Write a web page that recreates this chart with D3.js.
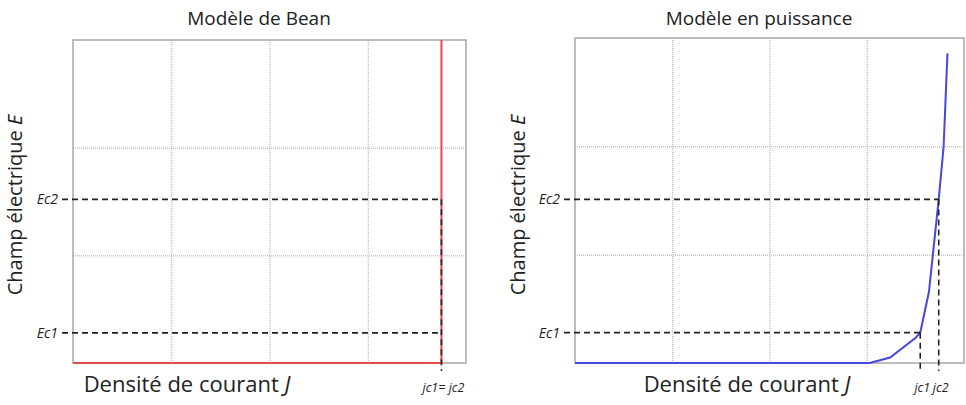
<!DOCTYPE html>
<html lang="fr">
<head>
    <meta charset="UTF-8">
    <title>Modèles E(J)</title>
    <style>
        body { margin: 0; background: #fff; }
        svg { display: block; font-family: "Open Sans", sans-serif; }
        .grid line { stroke: #aaa; stroke-dasharray: 1,1; }
        .grid path { display: none; }
        .crit { stroke: #222; stroke-width: 1.6; stroke-dasharray: 6,4; fill: none; }
        .tick-lbl { font-style: italic; font-size: 14px; fill: #222; }
        .jc-lbl { font-size: 12.5px; }
    </style>
</head>
<body>
    <div id="chart"></div>

    <script src="https://d3js.org/d3.v7.min.js"></script>
    <script>
        // grid positions (J in [0,4], E in [0,3])
        const gridJ = [1, 2, 3]
        const gridE = [1, 2]

        // Bean model: E jumps at jc
        const beanJ = [0, 3.75, 3.75]
        const beanE = [0, 0, 3]
        const beanJc = [3.75]
        const beanEc = [0.28, 1.52]
        const beanJcLabels = ['jc1= jc2']

        // power-law model
        const powerJ = [0, 3.03, 3.24, 3.50, 3.55, 3.64, 3.68, 3.74, 3.79, 3.83]
        const powerE = [0, 0, 0.05, 0.23, 0.28, 0.66, 1.0, 1.51, 1.99, 2.86]
        const powerJc = [3.55, 3.74]
        const powerEc = [0.28, 1.51]
        const powerJcLabels = ['jc1', 'jc2']

        const ecLabels = ['Ec1', 'Ec2']

        const svg = d3.select('#chart')
            .append('svg')
            .attr('width', 966)
            .attr('height', 405)

        function drawPanel(p) {
            const x = d3.scaleLinear().domain([0, 4]).range([p.left, p.right])
            const y = d3.scaleLinear().domain([0, 3]).range([p.bottom, p.top])
            const g = svg.append('g')

            // dotted grid
            g.append('g').attr('class', 'grid')
                .attr('transform', `translate(0,${p.bottom})`)
                .call(d3.axisBottom(x).tickValues(gridJ).tickSize(-(p.bottom - p.top)).tickFormat(''))
            g.append('g').attr('class', 'grid')
                .attr('transform', `translate(${p.left},0)`)
                .call(d3.axisLeft(y).tickValues(gridE).tickSize(-(p.right - p.left)).tickFormat(''))

            // frame
            g.append('rect')
                .attr('x', p.left).attr('y', p.top)
                .attr('width', p.right - p.left).attr('height', p.bottom - p.top)
                .attr('fill', 'none').attr('stroke', '#a8a8a8').attr('stroke-width', 1.5)

            // curve
            const line = d3.line().x(d => x(d[0])).y(d => y(d[1]))
            g.append('path')
                .datum(p.J.map((v, i) => [v, p.E[i]]))
                .attr('d', line)
                .attr('fill', 'none')
                .attr('stroke', p.color)
                .attr('stroke-width', 2)

            // dashed critical lines (drawn over the curve)
            p.ec.forEach((e, i) => {
                const j = p.jc[Math.min(i, p.jc.length - 1)]
                g.append('path').attr('class', 'crit')
                    .attr('d', `M${p.left - 11},${y(e)}H${x(j)}`)
                g.append('text').attr('class', 'tick-lbl')
                    .attr('x', p.left - 15).attr('y', y(e) + 5)
                    .attr('text-anchor', 'end')
                    .text(ecLabels[i])
            })
            p.jc.forEach((j, i) => {
                const e = p.ec[Math.min(i + p.ec.length - p.jc.length, p.ec.length - 1)]
                const topE = p.jc.length === 1 ? p.ec[p.ec.length - 1] : e
                g.append('path').attr('class', 'crit')
                    .attr('d', `M${x(j)},${y(topE)}V${p.bottom + 8}`)
                g.append('text').attr('class', 'tick-lbl jc-lbl')
                    .attr('x', x(j) + 2).attr('y', p.bottom + 29)
                    .attr('text-anchor', 'middle')
                    .text(p.jcLabels[i])
            })

            // texts
            g.append('text')
                .attr('x', p.titleX).attr('y', 25)
                .attr('text-anchor', 'middle')
                .attr('font-size', 19).attr('fill', '#222')
                .text(p.title)
            const xl = g.append('text')
                .attr('x', p.xLabelX).attr('y', p.bottom + 29)
                .attr('text-anchor', 'middle')
                .attr('font-size', 22).attr('fill', '#222')
            xl.append('tspan').text('Densité de courant ')
            xl.append('tspan').attr('font-style', 'italic').text('J')
            const yl = g.append('text')
                .attr('transform', `translate(${p.yLabelX},205) rotate(-90)`)
                .attr('text-anchor', 'middle')
                .attr('font-size', 20).attr('fill', '#222')
            yl.append('tspan').text('Champ électrique ')
            yl.append('tspan').attr('font-style', 'italic').text('E')
        }

        drawPanel({
            left: 73, right: 466, top: 40, bottom: 363,
            J: beanJ, E: beanE, jc: beanJc, ec: beanEc, jcLabels: beanJcLabels,
            color: '#e6484f', title: 'Modèle de Bean',
            titleX: 259, xLabelX: 187, yLabelX: 22
        })
        drawPanel({
            left: 575, right: 964, top: 38, bottom: 363,
            J: powerJ, E: powerE, jc: powerJc, ec: powerEc, jcLabels: powerJcLabels,
            color: '#4646e6', title: 'Modèle en puissance',
            titleX: 759, xLabelX: 747, yLabelX: 525
        })
    </script>
</body>
</html>
